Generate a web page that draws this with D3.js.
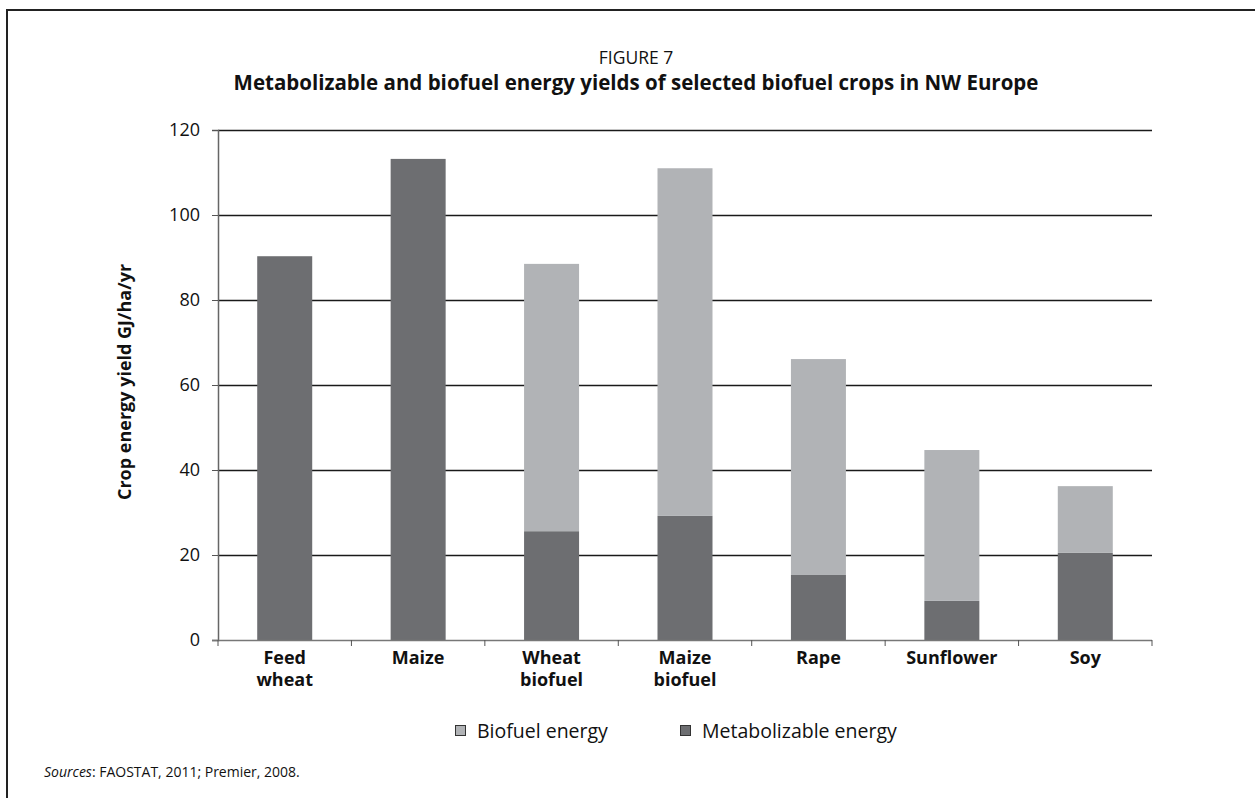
<!DOCTYPE html>
<html><head><meta charset="utf-8">
<script src="https://cdn.jsdelivr.net/npm/d3@7"></script>
<style>body{margin:0;background:#fff}svg{display:block}text{font-family:"Open Sans",sans-serif}</style>
</head><body>
<svg id="c" width="1255" height="798"></svg>
<script>
const categories = [["Feed","wheat"],["Maize"],["Wheat","biofuel"],["Maize","biofuel"],["Rape"],["Sunflower"],["Soy"]];
const metabolizable = [90.3, 113.2, 25.6, 29.2, 15.3, 9.2, 20.5];
const biofuel = [0, 0, 62.9, 81.8, 50.8, 35.5, 15.7];
const yTicks = [0, 20, 40, 60, 80, 100, 120];
const seriesNames = ["Biofuel energy", "Metabolizable energy"];
const colors = {metab: "#6d6e71", bio: "#b1b3b6"};

(function(){
const svg = d3.select("#c");
const pL = 218, pR = 1152, pT = 130, pB = 640;

// frame
svg.append("line").attr("x1",7).attr("x2",1255).attr("y1",10).attr("y2",10).attr("stroke","#222").attr("stroke-width",2);
svg.append("line").attr("x1",7).attr("x2",7).attr("y1",9).attr("y2",798).attr("stroke","#222").attr("stroke-width",2);

const x = d3.scaleBand().domain(d3.range(categories.length)).range([pL, pR]).paddingInner(0).paddingOuter(0);
const y = d3.scaleLinear().domain([0, 120]).range([pB, pT]);

// titles
svg.append("text").attr("x",636).attr("y",64).attr("text-anchor","middle").attr("font-size",17.5).attr("fill","#111").text("FIGURE 7");
svg.append("text").attr("x",636).attr("y",90).attr("text-anchor","middle").attr("font-size",20.5).attr("font-weight","bold").attr("fill","#111")
  .text("Metabolizable and biofuel energy yields of selected biofuel crops in NW Europe");

// gridlines
svg.append("g").selectAll("line").data(yTicks.filter(d=>d>0)).join("line")
  .attr("x1",pL).attr("x2",pR).attr("y1",d=>y(d)+0.5).attr("y2",d=>y(d)+0.5)
  .attr("stroke","#1a1a1a").attr("stroke-width",1.3);

// bars
const bw = 55;
const g = svg.append("g");
g.selectAll("rect.m").data(metabolizable).join("rect").attr("class","m")
  .attr("x",(d,i)=>x(i)+x.bandwidth()/2-bw/2).attr("width",bw)
  .attr("y",d=>y(d)).attr("height",d=>y(0)-y(d)).attr("fill",colors.metab);
g.selectAll("rect.b").data(biofuel).join("rect").attr("class","b")
  .attr("x",(d,i)=>x(i)+x.bandwidth()/2-bw/2).attr("width",bw)
  .attr("y",(d,i)=>y(d+metabolizable[i])).attr("height",(d,i)=>y(metabolizable[i])-y(d+metabolizable[i])).attr("fill",colors.bio);

// y axis
const ya = svg.append("g").attr("transform",`translate(${pL},0)`)
  .call(d3.axisLeft(y).tickValues(yTicks).tickSize(6).tickPadding(12).tickFormat(d3.format("d")));
ya.select(".domain").attr("stroke","#666").attr("stroke-width",1.5);
ya.selectAll(".tick line").attr("stroke","#555");
ya.selectAll(".tick text").attr("font-size",18).attr("fill","#111").attr("font-family","'Open Sans',sans-serif");

// x axis
const xa = svg.append("g").attr("transform",`translate(0,${pB})`);
xa.append("line").attr("x1",pL-6).attr("x2",pR).attr("y1",0.5).attr("y2",0.5).attr("stroke","#777").attr("stroke-width",1.5);
xa.selectAll("line.t").data(d3.range(categories.length+1)).join("line").attr("class","t")
  .attr("x1",i=>pL+i*x.bandwidth()).attr("x2",i=>pL+i*x.bandwidth()).attr("y1",0).attr("y2",6).attr("stroke","#555");
const lab = xa.selectAll("text").data(categories).join("text")
  .attr("x",(d,i)=>x(i)+x.bandwidth()/2).attr("y",24).attr("text-anchor","middle")
  .attr("font-size",18).attr("font-weight","bold").attr("fill","#111");
lab.selectAll("tspan").data(d=>d).join("tspan").attr("x",function(){return this.parentNode.getAttribute("x");})
  .attr("dy",(d,i)=>i===0?0:22).text(d=>d);

// y title
svg.append("text").attr("transform","translate(131,382) rotate(-90)").attr("text-anchor","middle")
  .attr("font-size",18).attr("font-weight","bold").attr("fill","#111").text("Crop energy yield GJ/ha/yr");

// legend
const legX = [455, 680];
const leg = svg.append("g");
seriesNames.forEach((n,i)=>{
  leg.append("rect").attr("x",legX[i]+0.5).attr("y",725.5).attr("width",10).attr("height",10)
    .attr("fill",i===0?colors.bio:colors.metab).attr("stroke","#333").attr("stroke-width",1);
  leg.append("text").attr("x",legX[i]+22).attr("y",738).attr("font-size",19.5).attr("fill","#111").text(n);
});

// source
const s = svg.append("text").attr("x",44).attr("y",777).attr("font-size",14).attr("fill","#111");
s.append("tspan").attr("font-style","italic").text("Sources");
s.append("tspan").text(": FAOSTAT, 2011; Premier, 2008.");
})();
</script>
</body></html>
